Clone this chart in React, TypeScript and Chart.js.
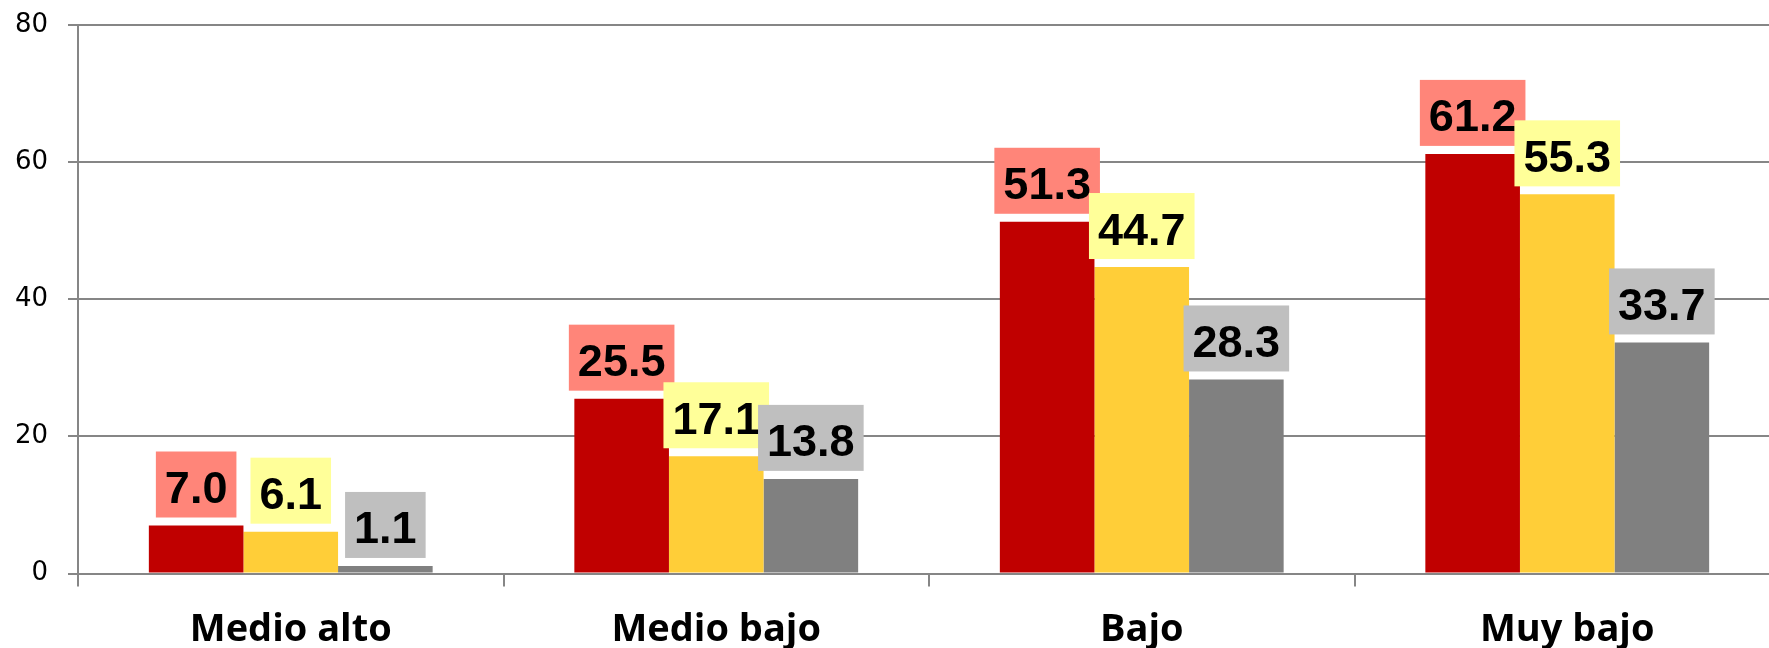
import React, { useEffect, useRef } from "react";
import { Chart, registerables } from "chart.js";

Chart.register(...registerables);

const categories = ["Medio alto", "Medio bajo", "Bajo", "Muy bajo"];
const seriesRed = [7.0, 25.5, 51.3, 61.2];
const seriesYellow = [6.1, 17.1, 44.7, 55.3];
const seriesGray = [1.1, 13.8, 28.3, 33.7];
const yMin = 0;
const yMax = 80;
const yStep = 20;

const GRID = "#868686";

const valueBoxPlugin = {
  id: "valueBoxes",
  afterDatasetsDraw(chart: any) {
    const ctx = chart.ctx;
    ctx.save();
    ctx.font = "bold 45px 'Liberation Sans', Arial, sans-serif";
    ctx.textAlign = "center";
    ctx.textBaseline = "alphabetic";
    chart.data.datasets.forEach((ds: any, di: number) => {
      const meta = chart.getDatasetMeta(di);
      meta.data.forEach((bar: any, i: number) => {
        const v = ds.data[i] as number;
        const text = v.toFixed(1);
        const tw = ctx.measureText(text).width;
        const w = tw + 18;
        const h = 66;
        const bottom = bar.y - 8;
        ctx.fillStyle = ds.labelBg;
        ctx.fillRect(bar.x - w / 2, bottom - h, w, h);
        ctx.fillStyle = "#000";
        ctx.fillText(text, bar.x, bottom - 14.5);
      });
    });
    ctx.restore();
  },
};

export default function App() {
  const ref = useRef<HTMLCanvasElement | null>(null);

  useEffect(() => {
    if (!ref.current) return;
    const chart = new Chart(ref.current, {
      type: "bar",
      data: {
        labels: categories,
        datasets: [
          {
            label: "Serie 1",
            data: seriesRed,
            backgroundColor: "#C00000",
            labelBg: "#FF8579",
            categoryPercentage: 0.667,
            barPercentage: 1.0,
          } as any,
          {
            label: "Serie 2",
            data: seriesYellow,
            backgroundColor: "#FFCE38",
            labelBg: "#FFFF99",
            categoryPercentage: 0.667,
            barPercentage: 1.0,
          } as any,
          {
            label: "Serie 3",
            data: seriesGray,
            backgroundColor: "#808080",
            labelBg: "#BFBFBF",
            categoryPercentage: 0.667,
            barPercentage: 1.0,
          } as any,
        ],
      },
      options: {
        responsive: false,
        animation: false,
        devicePixelRatio: 1,
        layout: { padding: { left: 15, top: 25, right: 10, bottom: 0 } },
        plugins: {
          legend: { display: false },
          tooltip: { enabled: false },
          title: { display: false },
        },
        scales: {
          x: {
            offset: true,
            grid: {
              display: true,
              offset: true,
              drawOnChartArea: false,
              drawTicks: true,
              tickLength: 13,
              color: GRID,
              lineWidth: 2,
            },
            border: { display: false },
            ticks: {
              color: "#000",
              padding: 20.5,
              font: { family: "'Open Sans', sans-serif", size: 38, weight: "bold", lineHeight: 1.2 },
            },
            afterFit: (scale: any) => {
              scale.height = 86.5;
              scale.paddingLeft = 0;
              scale.paddingRight = 0;
            },
          },
          y: {
            min: yMin,
            max: yMax,
            grid: {
              color: GRID,
              lineWidth: 2,
              tickLength: 10,
              drawTicks: true,
            },
            border: { display: true, color: GRID, width: 2 },
            ticks: {
              stepSize: yStep,
              color: "#000",
              padding: 20,
              font: { family: "'DejaVu Sans', sans-serif", size: 26 },
            },
            afterFit: (scale: any) => {
              scale.width = 63;
              scale.paddingTop = 0;
              scale.paddingBottom = 0;
            },
          },
        },
      } as any,
      plugins: [valueBoxPlugin],
    });
    return () => chart.destroy();
  }, []);

  return (
    <div
      style={{
        position: "fixed",
        left: 0,
        top: 0,
        width: 1769,
        height: 648,
        overflow: "hidden",
        background: "#fff",
      }}
    >
      <canvas ref={ref} width={1790} height={660} style={{ display: "block" }} />
    </div>
  );
}
